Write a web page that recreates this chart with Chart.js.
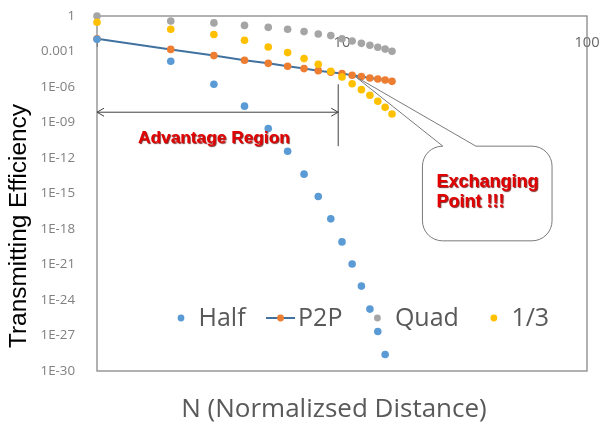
<!DOCTYPE html>
<html>
<head>
<meta charset="utf-8">
<script src="https://cdn.jsdelivr.net/npm/chart.js@4"></script>
<style>
  html, body { margin: 0; padding: 0; background: #fff; }
  #wrap { width: 601px; height: 428px; }
</style>
</head>
<body>
<div id="wrap"><canvas id="effChart" width="601" height="428"></canvas></div>
<script>
// N (normalised distance)
const nValues = [1, 2, 3, 4, 5, 6, 7, 8, 9, 10, 11, 12, 13, 14, 15, 16];

// transmitting efficiency per scheme
const halfValues = [0.011, 1.5e-4, 1.7e-6, 2.4e-8, 3.1e-10, 3.7e-12, 4.3e-14, 5.6e-16, 7.2e-18, 8.1e-20, 1.1e-21, 1.5e-23, 1.7e-25, 2.2e-27, 2.5e-29, null];
const p2pValues = [0.0117, 1.5e-3, 4.5e-4, 1.8e-4, 1.0e-4, 5.6e-5, 3.6e-5, 2.4e-5, 1.8e-5, 1.4e-5, 9.8e-6, 7.6e-6, 5.8e-6, 4.8e-6, 3.9e-6, 3.0e-6];
const quadValues = [1, 0.38, 0.26, 0.16, 0.11, 0.075, 0.048, 0.030, 0.022, 0.012, 0.0078, 0.0049, 0.0034, 0.0023, 0.0016, 0.00105];
const thirdValues = [0.3, 0.075, 0.027, 0.0089, 0.0024, 8.1e-4, 2.5e-4, 8.3e-5, 2.1e-5, 7e-6, 1.9e-6, 6e-7, 2e-7, 6.3e-8, 1.9e-8, 5.3e-9];

const seriesNames = ['Half', 'P2P', 'Quad', '1/3'];

const xTickValues = [1, 10, 100];
const xTickLabels = ['1', '10', '100'];
const yTickValues = [1, 1e-3, 1e-6, 1e-9, 1e-12, 1e-15, 1e-18, 1e-21, 1e-24, 1e-27, 1e-30];
const yTickLabels = ['1', '0.001', '1E-06', '1E-09', '1E-12', '1E-15', '1E-18', '1E-21', '1E-24', '1E-27', '1E-30'];

const toPoints = vals => nValues.map((n, i) => ({ x: n, y: vals[i] })).filter(p => p.y != null);

const COLORS = { half: '#5B9BD5', p2p: '#ED7D31', p2pLine: '#41729F', quad: '#A5A5A5', third: '#FFC000' };

// frame round the plot area (Excel style)
const framePlugin = {
  id: 'frame',
  beforeDatasetsDraw(chart) {
    const { ctx, chartArea: a } = chart;
    ctx.save();
    ctx.strokeStyle = '#888888';
    ctx.lineWidth = 1.3;
    ctx.strokeRect(a.left, a.top, a.right - a.left, a.bottom - a.top);
    ctx.restore();
  }
};

// arrows, call-out, labels, axis titles and the in-plot legend
const notesPlugin = {
  id: 'notes',
  afterDatasetsDraw(chart) {
    const { ctx } = chart;
    const xs = chart.scales.x, ys = chart.scales.y;
    const px = v => xs.getPixelForValue(v), py = v => ys.getPixelForValue(v);
    ctx.save();

    // advantage region double arrow + marker line
    const ax0 = px(1), ax1 = px(9.65), ay = py(7.4e-9);
    ctx.strokeStyle = '#404040';
    ctx.lineWidth = 1;
    ctx.beginPath();
    ctx.moveTo(ax0, ay); ctx.lineTo(ax1, ay);
    ctx.moveTo(ax0 + 7, ay - 4); ctx.lineTo(ax0, ay); ctx.lineTo(ax0 + 7, ay + 4);
    ctx.moveTo(ax1 - 7, ay - 4); ctx.lineTo(ax1, ay); ctx.lineTo(ax1 - 7, ay + 4);
    ctx.moveTo(ax1, py(1.7e-6)); ctx.lineTo(ax1, py(1e-11));
    ctx.stroke();

    const redText = (txt, x, y, size, align) => {
      ctx.font = 'bold ' + size + 'px "Liberation Sans", Arial, sans-serif';
      ctx.textAlign = align;
      ctx.textBaseline = 'middle';
      ctx.shadowColor = 'rgba(110,0,0,0.85)';
      ctx.shadowOffsetX = 1; ctx.shadowOffsetY = 1; ctx.shadowBlur = 1;
      ctx.fillStyle = '#E20000';
      ctx.fillText(txt, x, y);
      ctx.shadowColor = 'transparent';
    };
    redText('Advantage Region', px(3.0), py(4.7e-11), 17.3, 'center');

    // call-out box
    const bx0 = px(21.3), bx1 = px(72), by0 = py(1e-11), by1 = py(1e-19), r = 20;
    const tipX = px(11.3), tipY = py(8e-6), b1 = px(25.8), b2 = px(35.2);
    ctx.fillStyle = '#fff';
    ctx.beginPath();
    ctx.roundRect(bx0, by0, bx1 - bx0, by1 - by0, r);
    ctx.fill();
    ctx.strokeStyle = '#7a7a7a';
    ctx.lineWidth = 1;
    ctx.beginPath();
    ctx.moveTo(b2, by0); ctx.lineTo(bx1 - r, by0);
    ctx.arcTo(bx1, by0, bx1, by0 + r, r);
    ctx.lineTo(bx1, by1 - r);
    ctx.arcTo(bx1, by1, bx1 - r, by1, r);
    ctx.lineTo(bx0 + r, by1);
    ctx.arcTo(bx0, by1, bx0, by1 - r, r);
    ctx.lineTo(bx0, by0 + r);
    ctx.arcTo(bx0, by0, bx0 + r, by0, r);
    ctx.lineTo(b1, by0);
    ctx.lineTo(tipX, tipY);
    ctx.lineTo(b2, by0);
    ctx.stroke();
    const tx = px(24.3), ty = py(9e-15);
    redText('Exchanging', tx, ty, 18, 'left');
    redText('Point !!!', tx, ty + 19.7, 18, 'left');

    // legend inside the plot
    const colors = [COLORS.half, COLORS.p2p, COLORS.quad, COLORS.third];
    ctx.font = '25px "Open Sans", sans-serif';
    ctx.textAlign = 'left';
    ctx.textBaseline = 'middle';
    const ly = 318;
    let cx = chart.chartArea.left + 84;
    seriesNames.forEach((name, i) => {
      if (i === 1) {
        ctx.strokeStyle = COLORS.p2pLine;
        ctx.lineWidth = 2;
        ctx.beginPath();
        ctx.moveTo(cx - 14.5, ly); ctx.lineTo(cx + 14.5, ly);
        ctx.stroke();
      }
      ctx.fillStyle = colors[i];
      ctx.beginPath();
      ctx.arc(cx, ly, 3.4, 0, Math.PI * 2);
      ctx.fill();
      ctx.fillStyle = '#595959';
      ctx.fillText(name, cx + 17.5, ly + 1);
      cx += 17.5 + ctx.measureText(name).width + 35;
    });

    // axis titles
    ctx.font = '26px "Open Sans", sans-serif';
    ctx.textAlign = 'center';
    ctx.fillStyle = '#595959';
    ctx.fillText('N (Normalizsed Distance)', 334, 410);

    ctx.translate(19, 226);
    ctx.rotate(-Math.PI / 2);
    ctx.font = '24.4px "Liberation Sans", Arial, sans-serif';
    ctx.fillStyle = '#000';
    ctx.fillText('Transmitting Efficiency', 0, 0);
    ctx.restore();
  }
};

new Chart(document.getElementById('effChart'), {
  type: 'scatter',
  data: {
    datasets: [
      { label: seriesNames[0], data: toPoints(halfValues), backgroundColor: COLORS.half, pointRadius: 3.8, pointBorderWidth: 0, order: 1, clip: false },
      { label: seriesNames[1], data: toPoints(p2pValues), showLine: true, borderColor: COLORS.p2pLine, borderWidth: 2, backgroundColor: COLORS.p2p, pointBackgroundColor: COLORS.p2p, pointRadius: 3.8, pointBorderWidth: 0, order: 4, clip: false },
      { label: seriesNames[2], data: toPoints(quadValues), backgroundColor: COLORS.quad, pointRadius: 3.8, pointBorderWidth: 0, order: 3, clip: false },
      { label: seriesNames[3], data: toPoints(thirdValues), backgroundColor: COLORS.third, pointRadius: 3.8, pointBorderWidth: 0, order: 2, clip: false }
    ]
  },
  options: {
    responsive: false,
    animation: false,
    devicePixelRatio: 1,
    layout: { padding: { left: 0, top: 16, right: 14, bottom: 57 } },
    plugins: { legend: { display: false }, tooltip: { enabled: false } },
    scales: {
      x: {
        type: 'logarithmic',
        min: 1, max: 100,
        position: { y: 1 },
        grid: { display: false },
        border: { display: false },
        afterBuildTicks: s => { s.ticks = xTickValues.map(v => ({ value: v })); },
        afterFit: s => { s.paddingLeft = 0; s.paddingRight = 0; s.paddingTop = 0; s.paddingBottom = 0; },
        ticks: {
          padding: 10,
          color: '#666666',
          font: { family: '"Open Sans", sans-serif', size: 14.7 },
          maxRotation: 0,
          callback: (v, i) => xTickLabels[i]
        }
      },
      y: {
        type: 'logarithmic',
        min: 1e-30, max: 1,
        position: 'left',
        grid: { display: false },
        border: { display: false },
        afterFit: s => { s.width = 97; s.paddingTop = 0; s.paddingBottom = 0; },
        afterBuildTicks: s => { s.ticks = yTickValues.slice().reverse().map(v => ({ value: v })); },
        ticks: {
          padding: 14,
          color: '#808080',
          font: { family: '"Open Sans", sans-serif', size: 13.3 },
          callback: (v, i) => yTickLabels[yTickLabels.length - 1 - i]
        }
      }
    }
  },
  plugins: [framePlugin, notesPlugin]
});
</script>
</body>
</html>
